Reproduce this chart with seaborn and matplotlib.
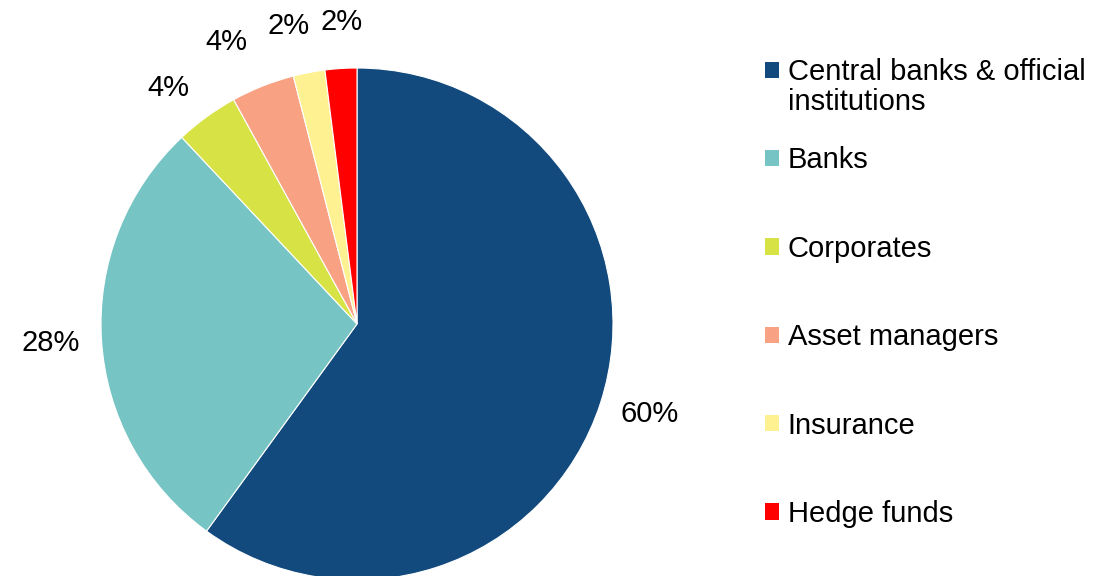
import matplotlib
matplotlib.use('Agg')
import numpy as np
import matplotlib.pyplot as plt
import seaborn as sns
from matplotlib.patches import Patch

# Share by investor type (%)
categories = ['Central banks & official', 'Banks', 'Corporates',
              'Asset managers', 'Insurance', 'Hedge funds']
label_wrap = 'institutions'  # second line of the first legend entry
shares = [60, 28, 4, 4, 2, 2]
hex_colors = ['#134A7D', '#76C4C3', '#D7E245', '#F9A283', '#FEF192', '#FF0000']

# small nudges so the crowded labels sit like the original (deg, radius)
label_nudge_deg = [0.9, 0, 2.7, 3.3, 2.2, -0.6]
label_dist = [1.196, 1.2, 1.18, 1.215, 1.195, 1.18]

sns.set_theme(style='white')
plt.rcParams['font.family'] = ['Liberation Sans', 'DejaVu Sans']

palette = sns.color_palette(hex_colors)

fig = plt.figure(figsize=(11, 5.76), dpi=100)
# pie centre ~ (357, 324) px, radius ~256 px
ax = fig.add_axes([(357 - 256) / 1100, (252 - 256) / 576, 512 / 1100, 512 / 576])

wedges, _ = ax.pie(shares, colors=palette, startangle=90, counterclock=False,
                   wedgeprops=dict(edgecolor='white', linewidth=0.8))
ax.set_xlim(-1, 1)
ax.set_ylim(-1, 1)
ax.set_aspect('equal')
ax.axis('off')

# percentage labels outside each wedge
for w, s, nd, d in zip(wedges, shares, label_nudge_deg, label_dist):
    ang = np.deg2rad((w.theta1 + w.theta2) / 2 + nd)
    ax.text(d * np.cos(ang), d * np.sin(ang), f'{s}%', ha='center', va='center',
            fontsize=21, color='black', clip_on=False)

handles = [Patch(facecolor=c, edgecolor='none') for c in palette]
leg = fig.legend(handles, categories, loc='upper left',
                 bbox_to_anchor=(765 / 1100, 1 - 58 / 576),
                 frameon=False, fontsize=21, labelcolor='black',
                 handlelength=0.48, handleheight=0.48, handletextpad=0.3,
                 labelspacing=2.07, borderaxespad=0, borderpad=0)

# wrapped second line for the first entry
fig.canvas.draw()
bb = leg.get_texts()[0].get_window_extent()
fig.text(bb.x0 / 1100, (bb.y0 + bb.height / 2 - 30) / 576, label_wrap,
         fontsize=21, color='black', ha='left', va='center')

fig.savefig('out.png', dpi=100)
